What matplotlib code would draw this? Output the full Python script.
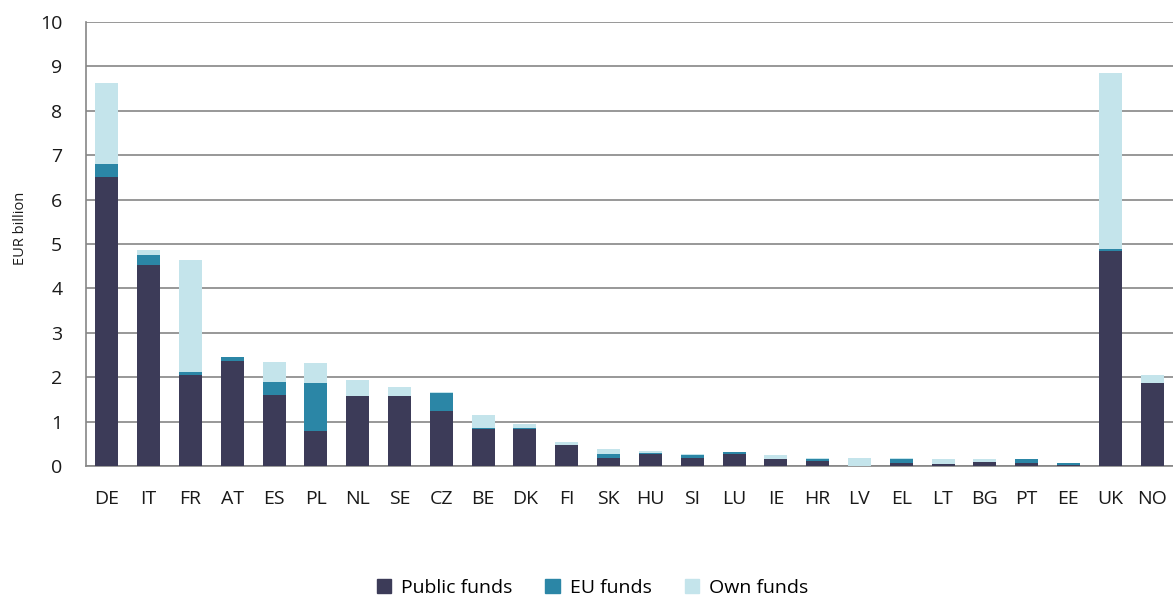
import numpy as np
import matplotlib.pyplot as plt
from matplotlib.patches import Patch

plt.rcParams['font.family'] = ['Open Sans', 'DejaVu Sans']

countries = ["DE", "IT", "FR", "AT", "ES", "PL", "NL", "SE", "CZ", "BE", "DK", "FI", "SK",
             "HU", "SI", "LU", "IE", "HR", "LV", "EL", "LT", "BG", "PT", "EE", "UK", "NO"]

# EUR billion
public_funds = [6.50, 4.52, 2.05, 2.36, 1.60, 0.79, 1.57, 1.57, 1.23, 0.84, 0.84, 0.47, 0.18,
                0.27, 0.18, 0.27, 0.16, 0.12, 0.00, 0.07, 0.04, 0.08, 0.07, 0.03, 4.84, 1.87]
eu_funds = [0.31, 0.23, 0.06, 0.10, 0.30, 1.08, 0.01, 0.01, 0.42, 0.02, 0.01, 0.00, 0.09,
            0.03, 0.07, 0.04, 0.00, 0.04, 0.00, 0.09, 0.01, 0.02, 0.09, 0.03, 0.04, 0.00]
own_funds = [1.81, 0.12, 2.52, 0.00, 0.44, 0.44, 0.36, 0.20, 0.01, 0.29, 0.09, 0.06, 0.12,
             0.03, 0.02, 0.00, 0.08, 0.02, 0.19, 0.03, 0.10, 0.05, 0.00, 0.00, 3.98, 0.17]

c_public = "#3c3b58"
c_eu = "#2b86a6"
c_own = "#c4e4eb"

fig = plt.figure(figsize=(11.73, 5.98), dpi=100)
ax = fig.add_axes([0.0733, 0.2207, 0.9267, 0.7425])

x = np.arange(len(countries))
pub = np.array(public_funds)
eu = np.array(eu_funds)
own = np.array(own_funds)
w = 0.55
ax.bar(x, pub, w, color=c_public, zorder=3)
ax.bar(x, eu, w, bottom=pub, color=c_eu, zorder=3)
ax.bar(x, own, w, bottom=pub + eu, color=c_own, zorder=3)

ax.set_xlim(-0.5, len(countries) - 0.5)
ax.set_ylim(0, 10)
ax.set_yticks(range(0, 11))
ax.yaxis.grid(True, color="#868686", linewidth=1.2, zorder=0)
ax.set_axisbelow(True)
ax.set_xticks(x)
ax.set_xticklabels(countries)
ax.tick_params(axis="both", length=0, labelsize=14, colors="#1a1a1a")
ax.tick_params(axis="x", pad=17)
ax.tick_params(axis="y", pad=17)
for s in ["top", "right"]:
    ax.spines[s].set_visible(False)
ax.spines["left"].set_color("#868686")
ax.spines["bottom"].set_color("#868686")
ax.spines["left"].set_linewidth(1.2)
ax.spines["bottom"].set_linewidth(1.2)
ax.set_ylabel("EUR billion", fontsize=10.5, color="#1a1a1a")
ax.yaxis.set_label_coords(-0.053, 0.536)

handles = [Patch(color=c_public, label="Public funds"),
           Patch(color=c_eu, label="EU funds"),
           Patch(color=c_own, label="Own funds")]
fig.legend(handles=handles, loc="center", bbox_to_anchor=(0.505, 0.017), ncol=3,
           frameon=False, fontsize=14, handlelength=0.75, handleheight=0.75,
           handletextpad=0.5, columnspacing=1.7)

fig.savefig("out.png", dpi=100)
